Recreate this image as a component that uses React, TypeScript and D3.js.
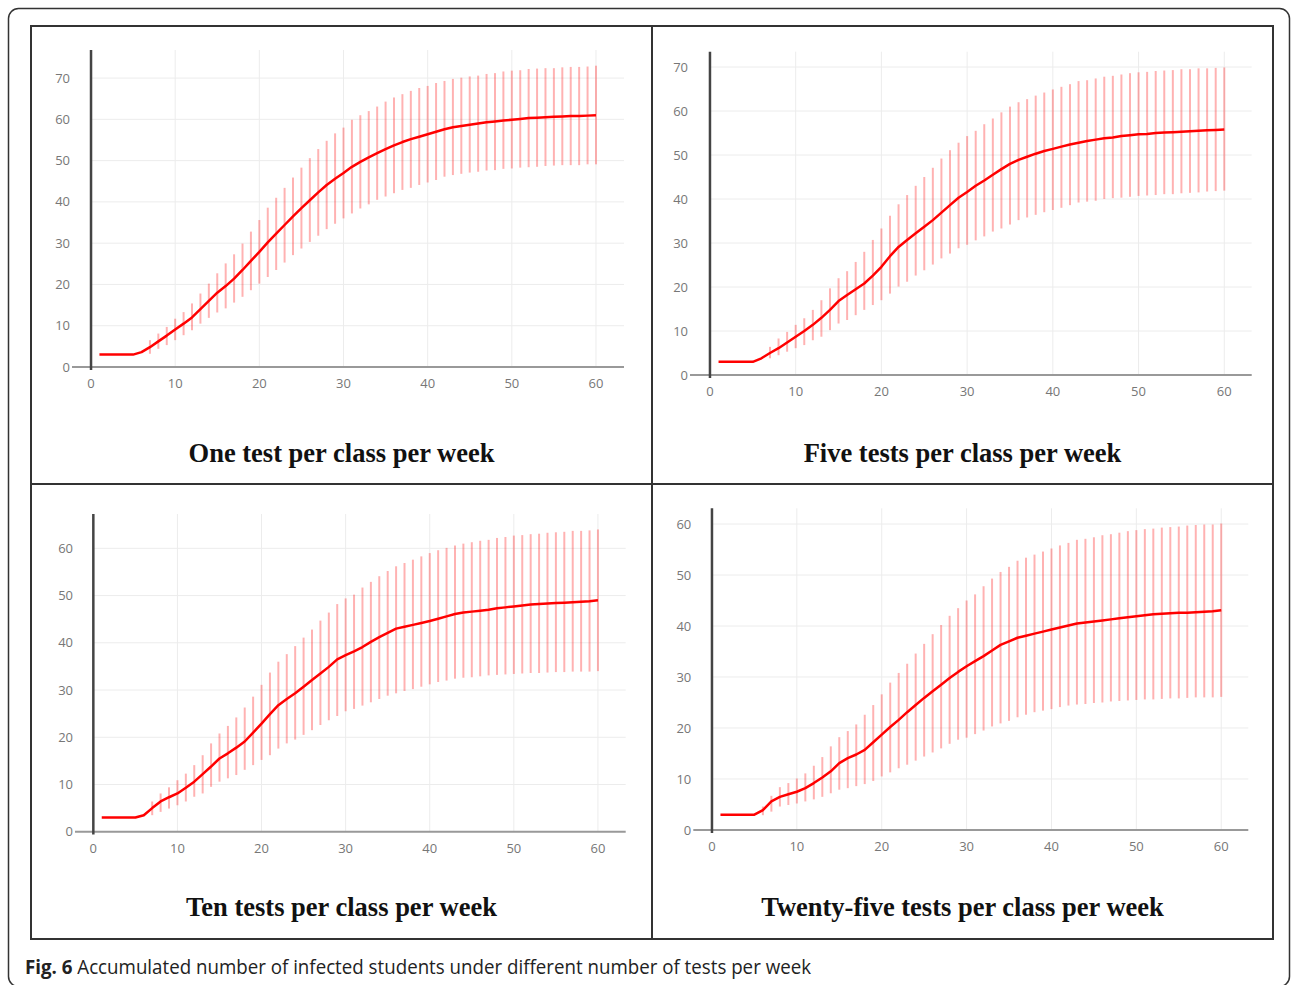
import * as d3 from "d3";

// day 1..60 on the x axis
const days = d3.range(1, 61);
const yTicksHigh = [0, 10, 20, 30, 40, 50, 60, 70];
const yTicksLow = [0, 10, 20, 30, 40, 50, 60];
const xTicks = [0, 10, 20, 30, 40, 50, 60];

const titles = [
  "One test per class per week",
  "Five tests per class per week",
  "Ten tests per class per week",
  "Twenty-five tests per class per week",
];

// mean of accumulated infected students
const oneMean = [3, 3, 3, 3, 3, 3.6, 4.8, 6.2, 7.6, 9.1, 10.5, 12, 14, 16, 18, 19.6, 21.4, 23.5, 25.7, 27.9,
  30.2, 32.3, 34.4, 36.5, 38.5, 40.4, 42.3, 44.1, 45.6, 47, 48.5, 49.7, 50.8, 51.8, 52.8, 53.7, 54.5, 55.2, 55.8, 56.4,
  57, 57.6, 58.1, 58.4, 58.7, 59, 59.3, 59.5, 59.7, 59.9, 60.1, 60.3, 60.4, 60.5, 60.6, 60.7, 60.8, 60.8, 60.9, 61];
const fiveMean = [3, 3, 3, 3, 3, 3.8, 5, 6.1, 7.4, 8.7, 10, 11.4, 13, 14.8, 16.8, 18.2, 19.5, 20.8, 22.6, 24.6,
  27, 29.1, 30.7, 32.2, 33.7, 35.2, 36.9, 38.6, 40.3, 41.6, 43, 44.2, 45.5, 46.8, 48, 48.9, 49.6, 50.3, 50.9, 51.4,
  51.9, 52.4, 52.8, 53.2, 53.5, 53.8, 54, 54.3, 54.5, 54.7, 54.8, 55, 55.1, 55.2, 55.3, 55.4, 55.5, 55.6, 55.7, 55.8];
const tenMean = [3, 3, 3, 3, 3, 3.5, 5, 6.4, 7.3, 8.1, 9.3, 10.6, 12.2, 13.8, 15.5, 16.6, 17.8, 19.1, 21, 22.9,
  24.9, 26.8, 28.1, 29.3, 30.7, 32.1, 33.5, 34.9, 36.5, 37.4, 38.2, 39.1, 40.2, 41.2, 42.1, 43, 43.4, 43.8, 44.2, 44.6,
  45.1, 45.6, 46.1, 46.4, 46.6, 46.8, 47, 47.3, 47.5, 47.7, 47.9, 48.1, 48.2, 48.3, 48.4, 48.5, 48.6, 48.7, 48.8, 49];
const twentyFiveMean = [3, 3, 3, 3, 3, 3.9, 5.6, 6.5, 7, 7.5, 8.2, 9.2, 10.3, 11.5, 13.1, 14.1, 14.8, 15.7, 17.2, 18.7,
  20.2, 21.6, 23.1, 24.5, 25.9, 27.2, 28.5, 29.8, 31, 32.1, 33.1, 34.1, 35.2, 36.3, 37, 37.7, 38.1, 38.5, 38.9, 39.3,
  39.7, 40.1, 40.5, 40.7, 40.9, 41.1, 41.3, 41.5, 41.7, 41.9, 42.1, 42.3, 42.4, 42.5, 42.6, 42.6, 42.7, 42.8, 42.9, 43.1];

// error bar ends, starting at the first day that has a bar
const oneBarFrom = 7;
const oneHi = [6.5, 8.1, 9.7, 11.7, 13.3, 15.4, 17.8, 20.2, 22.7, 25.1, 27.3, 29.9, 32.8, 35.6, 38.6, 41, 43.4, 45.9, 48.3, 50.6,
  52.8, 54.8, 56.6, 58, 59.9, 61, 62, 63.1, 64.3, 65.3, 66.1, 66.9, 67.6, 68.1, 68.8, 69.3, 69.8, 70.1, 70.4, 70.6,
  71, 71.2, 71.6, 71.8, 71.9, 72.2, 72.3, 72.4, 72.4, 72.6, 72.7, 72.7, 72.8, 73];
const oneLo = [3.2, 4.4, 5.3, 6.5, 7.7, 8.9, 10.5, 11.9, 13.2, 14.2, 15.6, 17, 18.6, 20.2, 21.8, 23.5, 25.3, 27.1, 28.7, 30.3,
  31.8, 33.4, 34.7, 36, 37.2, 38.4, 39.4, 40.5, 41.3, 42.1, 42.9, 43.4, 44.1, 44.7, 45.3, 46.1, 46.5, 46.8, 47.1, 47.3,
  47.6, 47.7, 48, 48.1, 48.3, 48.4, 48.5, 48.7, 48.8, 48.9, 48.9, 48.9, 49.1, 49.1];

const fiveBarFrom = 7;
const fiveHi = [6.4, 8.3, 9.8, 11.4, 12.9, 14.8, 17, 19.7, 22, 23.6, 25.7, 28, 30.7, 33.3, 36.2, 38.8, 40.9, 43, 45, 47.1,
  49.2, 51.1, 52.8, 54.3, 55.5, 57, 58.3, 59.7, 61, 62, 62.7, 63.5, 64.2, 64.9, 65.5, 66.1, 66.8, 67, 67.4, 67.8,
  68, 68.3, 68.6, 68.8, 68.9, 69.1, 69.2, 69.3, 69.5, 69.5, 69.7, 69.7, 69.8, 69.9];
const fiveLo = [3.8, 4.5, 5.3, 6.1, 6.8, 7.9, 8.7, 10.2, 11.7, 12.5, 13.6, 14.8, 15.9, 17, 18.5, 20.1, 21.2, 22.6, 23.8, 25.1,
  26.5, 27.6, 28.8, 29.6, 30.6, 31.5, 32.6, 33.3, 34.2, 35.2, 35.8, 36.4, 37, 37.5, 38, 38.6, 39.2, 39.4, 39.6, 40,
  40.2, 40.3, 40.5, 40.7, 40.8, 40.9, 41.1, 41.1, 41.3, 41.4, 41.5, 41.7, 41.8, 41.9];

const tenBarFrom = 7;
const tenHi = [6.4, 8.1, 9.4, 10.9, 12.3, 14.1, 16.2, 18.7, 20.8, 22.4, 24.2, 26.3, 28.6, 31.1, 33.7, 36, 37.6, 39.3, 41.1, 42.8,
  44.7, 46.4, 48.2, 49.4, 50.2, 51.7, 52.9, 54.1, 55.2, 56.2, 56.9, 57.6, 58.3, 59, 59.6, 60.1, 60.6, 61, 61.3, 61.6,
  61.8, 62.2, 62.4, 62.7, 62.8, 63, 63.1, 63.3, 63.4, 63.5, 63.7, 63.7, 63.8, 64];
const tenLo = [3.5, 4.2, 4.9, 5.6, 6.4, 7.4, 8.1, 9.5, 10.6, 11.3, 12, 13.1, 14.1, 15.2, 16.2, 17.6, 18.7, 19.5, 20.5, 21.5,
  22.6, 23.6, 24.5, 25.5, 26, 26.7, 27.4, 28.1, 28.8, 29.3, 29.8, 30.2, 30.7, 31.2, 31.7, 32, 32.4, 32.6, 32.7, 32.9,
  33.1, 33.2, 33.3, 33.4, 33.5, 33.6, 33.6, 33.7, 33.8, 33.8, 33.9, 33.9, 33.9, 34];

const twentyFiveBarFrom = 6;
const twentyFiveHi = [4.6, 6.7, 8.4, 9.2, 10.1, 11.1, 12.6, 14.3, 16.4, 18.2, 19.4, 20.7, 22.6, 24.5, 26.6, 28.9, 30.8, 32.6, 34.6, 36.5,
  38.4, 40.2, 42, 43.5, 45, 46.2, 47.8, 49.3, 50.6, 51.6, 52.8, 53.4, 54, 54.6, 55.2, 55.8, 56.3, 56.9, 57.1, 57.4,
  57.8, 58, 58.3, 58.6, 58.8, 59, 59.1, 59.3, 59.4, 59.5, 59.7, 59.8, 59.9, 59.9, 60.1];
const twentyFiveLo = [2.9, 3.6, 4.6, 4.9, 5.2, 5.6, 6, 6.5, 7.2, 7.9, 8.2, 8.6, 9, 9.6, 10.5, 11.3, 12.1, 12.8, 13.6, 14.4,
  15.2, 16, 16.9, 17.7, 18.1, 18.8, 19.5, 20.3, 20.9, 21.4, 22.1, 22.6, 23.1, 23.4, 23.7, 24.1, 24.4, 24.6, 24.7, 24.9,
  25, 25.2, 25.3, 25.4, 25.5, 25.6, 25.6, 25.7, 25.8, 25.8, 25.9, 26, 26, 26, 26.1];

const series = [
  { mean: oneMean, hi: oneHi, lo: oneLo, barFrom: oneBarFrom, yTicks: yTicksHigh },
  { mean: fiveMean, hi: fiveHi, lo: fiveLo, barFrom: fiveBarFrom, yTicks: yTicksHigh },
  { mean: tenMean, hi: tenHi, lo: tenLo, barFrom: tenBarFrom, yTicks: yTicksLow },
  { mean: twentyFiveMean, hi: twentyFiveHi, lo: twentyFiveLo, barFrom: twentyFiveBarFrom, yTicks: yTicksLow },
];

// plot boxes (px) and axis ranges for each of the four panels
const boxes = [
  { left: 72, right: 624, top: 50, bottom: 370, xDom: [-2.26, 63.33], yDom: [-0.73, 76.8], cx: 341.5, ty: 462 },
  { left: 690, right: 1251.7, top: 51.7, bottom: 378, xDom: [-2.33, 63.2], yDom: [-0.68, 73.48], cx: 962.5, ty: 462 },
  { left: 75, right: 625.7, top: 514, bottom: 834.5, xDom: [-2.18, 63.3], yDom: [-0.59, 67.27], cx: 341.5, ty: 916 },
  { left: 693.3, right: 1248.3, top: 508.3, bottom: 833, xDom: [-2.2, 63.19], yDom: [-0.59, 63.08], cx: 962.5, ty: 916 },
];

const tickFont = "'Open Sans', 'Noto Sans', sans-serif";

function Panel({ s, b, title }: any) {
  const x = d3.scaleLinear(b.xDom, [b.left, b.right]);
  const y = d3.scaleLinear(b.yDom, [b.bottom, b.top]);
  const line = d3.line<number>((d, i) => x(days[i]), (d) => y(d));
  const barDays = days.filter((d) => d >= s.barFrom);

  return (
    <g>
      {/* grid */}
      {xTicks.filter((t) => t > 0).map((t) => (
        <line key={"vx" + t} x1={x(t)} x2={x(t)} y1={b.top} y2={y(0)} stroke="#ececec" strokeWidth={1} />
      ))}
      {s.yTicks.filter((t: number) => t > 0).map((t: number) => (
        <line key={"hy" + t} x1={x(0)} x2={b.right} y1={y(t)} y2={y(t)} stroke="#ececec" strokeWidth={1} />
      ))}

      {/* error bars */}
      {barDays.map((d, i) => (
        <line key={"e" + d} x1={x(d)} x2={x(d)} y1={y(s.lo[i])} y2={y(s.hi[i])}
          stroke="#ff0000" strokeOpacity={0.3} strokeWidth={2} />
      ))}

      {/* zero lines */}
      <line x1={b.left} x2={b.right} y1={y(0)} y2={y(0)} stroke="#999" strokeWidth={2} />
      <line x1={x(0)} x2={x(0)} y1={b.top} y2={b.bottom} stroke="#444" strokeWidth={2.5} />

      <path d={line(s.mean) || ""} fill="none" stroke="#ff0000" strokeWidth={2.5} strokeLinejoin="round" />

      {/* tick labels */}
      {s.yTicks.map((t: number) => (
        <text key={"yl" + t} x={b.left - 2} y={y(t)} dy="0.35em" textAnchor="end"
          fontFamily={tickFont} fontSize={13} fill="#777">{t}</text>
      ))}
      {xTicks.map((t) => (
        <text key={"xl" + t} x={x(t)} y={y(0) + 21} textAnchor="middle"
          fontFamily={tickFont} fontSize={13} fill="#777">{t}</text>
      ))}

      <text x={b.cx} y={b.ty} textAnchor="middle" fontFamily="'Liberation Serif', 'Times New Roman', serif"
        fontWeight="bold" fontSize={26.5} fill="#111">{title}</text>
    </g>
  );
}

export default function App() {
  return (
    <svg width={1292} height={985} style={{ position: "absolute", left: 0, top: 0, background: "#fff" }}>
      <rect x={8.5} y={8.5} width={1281} height={978} rx={10} fill="none" stroke="#333" strokeWidth={1.5} />

      {series.map((s, i) => (
        <Panel key={i} s={s} b={boxes[i]} title={titles[i]} />
      ))}

      {/* panel frame */}
      <rect x={31} y={26} width={1242} height={913} fill="none" stroke="#333" strokeWidth={2} />
      <line x1={652} x2={652} y1={26} y2={939} stroke="#333" strokeWidth={2} />
      <line x1={31} x2={1273} y1={484} y2={484} stroke="#333" strokeWidth={2} />

      <text x={25} y={973.5} fontFamily="'Liberation Sans Narrow', 'Open Sans', sans-serif" fontSize={20} fill="#222"
        textLength={786} lengthAdjust="spacingAndGlyphs">
        <tspan fontWeight="bold">Fig. 6</tspan> Accumulated number of infected students under different number of tests per week
      </text>
    </svg>
  );
}
